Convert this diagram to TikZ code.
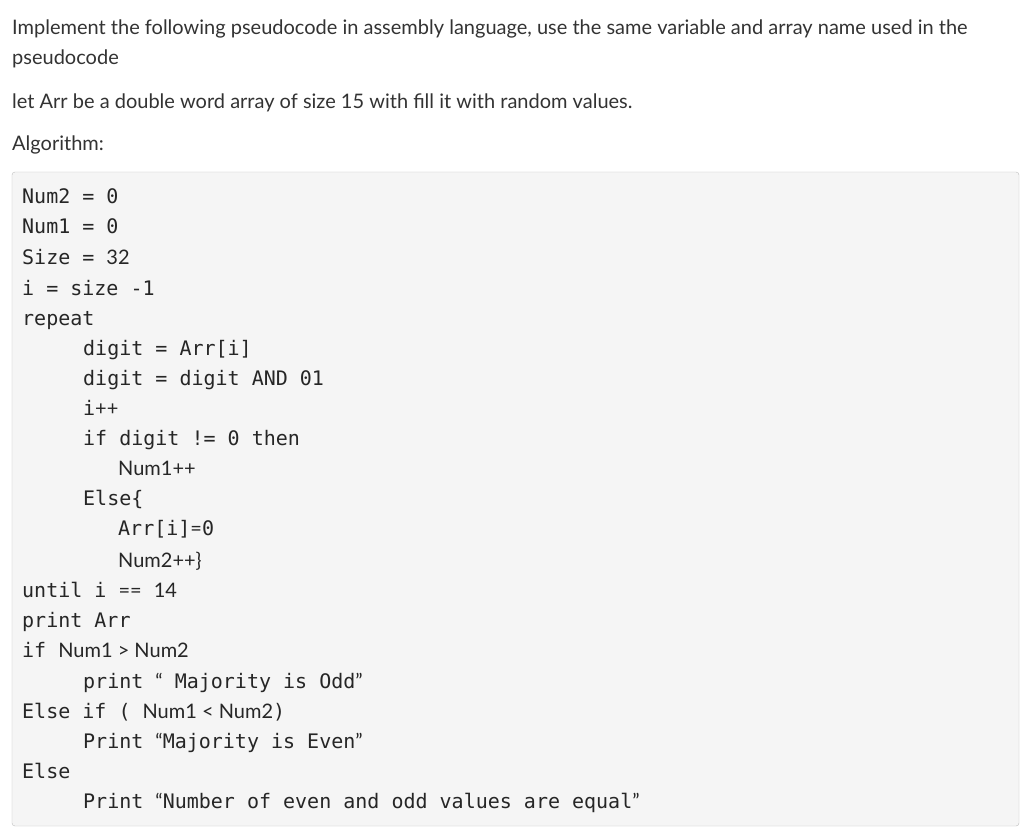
\documentclass[tikz,border=0pt]{standalone}
\usepackage{fontspec}
\setmainfont{Lato}
\setmonofont{DejaVu Sans Mono}
\begin{document}
\begin{tikzpicture}[x=1bp,y=-1bp,
  txt/.style={anchor=base west,inner sep=0pt,text=black!80,font=\fontsize{20bp}{22bp}\selectfont},
  code/.style={anchor=base west,inner sep=0pt,text=black!85,font=\fontsize{20bp}{22bp}\selectfont\ttfamily}]
\useasboundingbox (0,0) rectangle (1024,836);
\fill[white] (0,0) rectangle (1024,836);
\node[txt] (t1) at (12,34) {Implement the following pseudocode in assembly language, use the same variable and array name used in the};
\node[txt] (t2) at (12,64) {pseudocode};
\node[txt] (t3) at (12,108) {let Arr be a double word array of size 15 with fill it with random values.};
\node[txt] (t4) at (12,150) {Algorithm:};
\draw[fill=black!4,draw=black!25,rounded corners=3bp] (12,172) rectangle (1019,826);
\def\lm{\rmfamily}
\node[code] (c1) at (22,203) {Num2 = 0};
\node[code] (c2) at (22,233) {Num1 = 0};
\node[code] (c3) at (22,264) {Size = {\lm 32}};
\node[code] (c4) at (22,295) {i = size -1};
\node[code] (c5) at (22,325) {repeat};
\node[code] (c6) at (83,355) {digit = Arr[i]};
\node[code] (c7) at (83,385) {digit = digit AND 01};
\node[code] (c8) at (83,415) {i{\lm ++}};
\node[code] (c9) at (83,445) {if digit != 0 then};
\node[code] (c10) at (118,475) {\lm Num1++};
\node[code] (c11) at (83,505) {Else\{};
\node[code] (c12) at (118,535) {Arr[i]{\lm =}0};
\node[code] (c13) at (118,567) {\lm Num2++\}};
\node[code] (c14) at (22,597) {until i {\lm ==} {\lm 14}};
\node[code] (c15) at (22,627) {print Arr};
\node[code] (c16) at (22,657) {if {\lm Num1 > Num2}};
\node[code] (c17) at (83,688) {print {\lm “} Majority is Odd{\lm ”}};
\node[code] (c18) at (22,718) {Else if ( {\lm Num1 < Num2})};
\node[code] (c19) at (83,748) {Print {\lm “}Majority is Even{\lm ”}};
\node[code] (c20) at (22,778) {Else};
\node[code] (c21) at (83,808) {Print {\lm “}Number of even and odd values are equal{\lm ”}};
\end{tikzpicture}
\end{document}
